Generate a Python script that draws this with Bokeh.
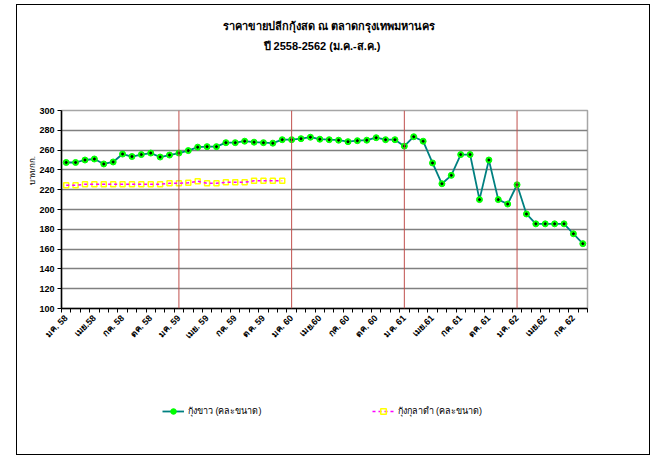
import math
from bokeh.plotting import figure
from bokeh.layouts import column
from bokeh.models import (ColumnDataSource, FixedTicker, Span, Legend, LegendItem, Range1d, Title)
from bokeh.embed import file_html
from bokeh.resources import INLINE

# ---- data ----
white_shrimp = [247.5, 247.5, 250, 251, 246, 248, 256, 253.5, 255.5, 257, 253, 255,
                257, 259.5, 263, 263.5, 263.5, 267.5, 267.5, 269, 268, 267.5, 267, 270.5,
                270.5, 271.5, 273, 271, 270.5, 270, 268.5, 269.5, 270, 272.5, 270.5, 270.5,
                264, 273.5, 269, 247, 226, 234.5, 255.5, 255.5, 210, 250, 210, 205.5,
                225, 195.5, 185.5, 185.5, 185.5, 185.5, 175.5, 165.5]
tiger_shrimp = [224.5, 224.5, 225.5, 225.5, 225.5, 225.5, 225.5, 225.5, 225.5, 225.5, 225.5, 226.5,
                226.5, 227, 228.5, 226.5, 226.5, 227.5, 227.5, 227.5, 229, 229, 229, 229]
tick_labels = ["มค. 58", "เมย.58", "กค. 58", "ตค. 58", "มค. 59", "เมย. 59", "กค. 59", "ตค. 59",
               "มค. 60", "เมย.60", "กค. 60", "ตค. 60", "มค. 61", "เมย.61", "กค. 61", "ตค. 61",
               "มค. 62", "เมย.62", "กค. 62"]
year_starts = [12, 24, 36, 48]
title_lines = ["ราคาขายปลีกกุ้งสด ณ ตลาดกรุงเทพมหานคร", "ปี 2558-2562 (ม.ค.-ส.ค.)"]
y_label = "บาท/กก."
series_names = ["กุ้งขาว (คละขนาด)", "กุ้งกุลาดำ (คละขนาด)"]

FONT = "Liberation Sans, Tahoma, sans-serif"
W = 632

# ---- styles ----
WHITE_STYLE = dict(line_color="#008080", line_width=1.8)
WHITE_MK = dict(marker="circle", size=6, fill_color="#00ff00", line_color="#00ff00")
WHITE_DOT = dict(marker="circle", size=2, fill_color="black", line_color="black")
TIGER_MK = dict(marker="square", size=5, fill_color=None, line_color="#ffff00", line_width=1.5)
TIGER_STYLE = dict(line_color="#ff00ff", line_width=1.5, line_dash="3 3")


def bare(height, yr):
    f = figure(width=W, height=height, output_backend="svg", toolbar_location=None,
               x_axis_type=None, y_axis_type=None, x_range=Range1d(0, W), y_range=yr,
               min_border=0, min_border_left=0, min_border_right=0,
               min_border_top=0, min_border_bottom=0)
    f.outline_line_color = None
    f.grid.visible = False
    return f


# ---- header (title) ----
head = bare(60, Range1d(60, 0))
head.text(x=[321, 313], y=[20, 40], text=title_lines, text_align="center",
          text_baseline="middle", text_font_size="11px", text_font_style="bold",
          text_font={"value": FONT}, text_color="black")

# ---- main chart ----
n = len(white_shrimp)
src_w = ColumnDataSource(dict(x=list(range(n)), y=white_shrimp))
src_t = ColumnDataSource(dict(x=list(range(len(tiger_shrimp))), y=tiger_shrimp))

p = figure(width=W, height=288, output_backend="svg", toolbar_location=None,
           x_range=Range1d(-0.5, n - 0.5), y_range=Range1d(100, 300),
           min_border_left=44, min_border_right=62, min_border_top=45, min_border_bottom=45)
p.background_fill_color = "white"
p.border_fill_color = "white"
p.outline_line_color = "#a6a6a6"
p.outline_line_width = 1.5

p.xaxis.ticker = FixedTicker(ticks=list(range(0, n, 3)),
                             minor_ticks=[i - 0.5 for i in range(n + 1)])
p.xaxis.major_label_overrides = {i * 3: lab for i, lab in enumerate(tick_labels)}
p.xaxis.major_label_orientation = math.pi / 4
p.xaxis.major_tick_in = 0
p.xaxis.major_tick_out = 0
p.xaxis.minor_tick_in = 0
p.xaxis.minor_tick_out = 4
p.xaxis.minor_tick_line_color = "black"
p.xaxis.major_label_text_font = FONT
p.xaxis.major_label_text_font_size = "9px"
p.xaxis.major_label_text_font_style = "bold"
p.xaxis.major_label_text_color = "black"
p.xaxis.major_label_standoff = 4
p.xaxis.axis_line_color = "black"
p.xaxis.axis_line_width = 1.5

p.yaxis.ticker = FixedTicker(ticks=list(range(100, 301, 20)))
p.yaxis.major_tick_in = 0
p.yaxis.major_tick_out = 4
p.yaxis.minor_tick_line_color = None
p.yaxis.major_label_text_font = FONT
p.yaxis.major_label_text_font_size = "9px"
p.yaxis.major_label_text_font_style = "bold"
p.yaxis.major_label_text_color = "black"
p.yaxis.major_label_standoff = 3
p.yaxis.axis_line_color = "black"
p.yaxis.axis_line_width = 1.5

p.xgrid.grid_line_color = None
p.ygrid.grid_line_color = "#808080"
p.ygrid.grid_line_width = 1.5

for ys in year_starts:
    p.add_layout(Span(location=ys, dimension="height", line_color="#c0504d", line_width=1))

p.line("x", "y", source=src_w, **WHITE_STYLE)
p.scatter("x", "y", source=src_w, **WHITE_MK)
p.scatter("x", "y", source=src_w, **WHITE_DOT)
p.scatter("x", "y", source=src_t, **TIGER_MK)
p.line("x", "y", source=src_t, **TIGER_STYLE)

p.add_layout(Title(text=y_label, align="left", offset=124, text_font=FONT,
                   text_font_size="8px", text_font_style="normal", text_color="black",
                   standoff=0), "left")

# ---- legend strip (sample glyphs only; their single point lies outside the view) ----
leg = bare(101, Range1d(0, 101))
off = dict(x=[-1000], y=[-1000])
r1 = leg.line(**off, **WHITE_STYLE)
r2 = leg.scatter(**off, **WHITE_MK)
r4 = leg.line(**off, **TIGER_STYLE)
r5 = leg.scatter(**off, **TIGER_MK)
legend = Legend(items=[LegendItem(label=series_names[0], renderers=[r1, r2]),
                       LegendItem(label=series_names[1], renderers=[r4, r5])],
                orientation="horizontal", location=(101, 36), spacing=110,
                border_line_color=None, background_fill_alpha=0,
                label_text_font=FONT, label_text_font_size="9px", label_text_color="black",
                glyph_width=22, glyph_height=14, label_standoff=4, padding=0, margin=0)
leg.add_layout(legend)

page = column(head, p, leg, spacing=0)
page.styles = {"border": "1px solid #000000", "margin-left": "16px", "margin-top": "4px"}

open("out.html", "w").write(file_html(page, INLINE))
